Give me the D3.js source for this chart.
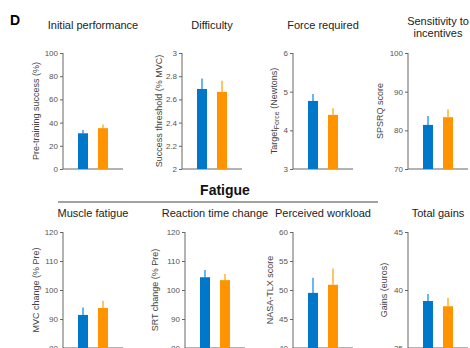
<!DOCTYPE html>
<html>
<head>
<meta charset="utf-8">
<script src="https://cdn.jsdelivr.net/npm/d3@7"></script>
<style>
  body { margin: 0; background: #fff; }
  svg { font-family: "Liberation Sans", Arial, sans-serif; }
</style>
</head>
<body>
<div class="content"></div>
<script>
// one entry per panel, top row then bottom row
var titles = [["Initial performance"], ["Difficulty"], ["Force required"], ["Sensitivity to", "incentives"],
              ["Muscle fatigue"], ["Reaction time change"], ["Perceived workload"], ["Total gains"]];
var yLabels = ["Pre-training success (%)", "Success threshold (% MVC)", "Target|Force| (Newtons)", "SPSRQ score",
               "MVC change (% Pre)", "SRT change (% Pre)", "NASA-TLX score", "Gains (euros)"];
var yTicks = [[0, 20, 40, 60, 80, 100], [2, 2.2, 2.4, 2.6, 2.8, 3], [3, 4, 5, 6], [70, 80, 90, 100],
              [80, 90, 100, 110, 120], [80, 90, 100, 110, 120], [40, 45, 50, 55, 60], [35, 40, 45]];
var groups = ["blue", "orange"];
var blueMean = [30.8, 2.69, 4.76, 81.4, 91.4, 104.4, 49.5, 39.05];
var blueTop  = [33.6, 2.78, 4.94, 83.7, 94.0, 106.9, 52.1, 39.65];
var orangeMean = [35.2, 2.665, 4.40, 83.4, 93.8, 103.4, 50.9, 38.6];
var orangeTop  = [38.4, 2.76, 4.57, 85.4, 96.3, 105.5, 53.7, 39.3];

var axisX = [63, 182, 293, 408, 63, 185, 293, 408];
var rowTop = [53, 232], rowH = 116;
var titleY = [29, 217];
var labelX = [39, 162, 277, 383, 39, 158, 273, 387];
var colors = {blue: "#0077c8", orange: "#ff9300"};
var errColors = {blue: "#6ab6ee", orange: "#ffc463"};

var svg = d3.select(".content").append("svg")
  .attr("width", 470).attr("height", 348);

svg.append("text").attr("x", 10).attr("y", 25)
  .style("font-weight", "bold").style("font-size", "14px").text("D");

svg.append("text").attr("x", 225).attr("y", 195).attr("text-anchor", "middle")
  .style("font-weight", "bold").style("font-size", "14px").attr("fill", "#111").text("Fatigue");
svg.append("line").attr("x1", 58).attr("x2", 378).attr("y1", 202).attr("y2", 202)
  .attr("stroke", "#444").attr("stroke-width", 1);

titles.forEach(function(t, i) {
  var row = i < 4 ? 0 : 1;
  var ax = axisX[i];
  var top = rowTop[row];
  var ticks = yTicks[i];
  var y = d3.scaleLinear().domain([ticks[0], ticks[ticks.length - 1]]).range([top + rowH, top]);
  var x = d3.scaleBand().domain(groups).range([ax, ax + 60]).paddingInner(0.5).paddingOuter(0.75);
  var g = svg.append("g");

  // title
  var cx = ax + 30;
  if (t.length == 1) {
    g.append("text").attr("x", cx).attr("y", titleY[row]).attr("text-anchor", "middle")
      .style("font-size", "11px").attr("fill", "#222").text(t[0]);
  } else {
    g.append("text").attr("x", cx).attr("y", 25).attr("text-anchor", "middle")
      .style("font-size", "11px").attr("fill", "#222").text(t[0]);
    g.append("text").attr("x", cx).attr("y", 37).attr("text-anchor", "middle")
      .style("font-size", "11px").attr("fill", "#222").text(t[1]);
  }

  // y axis
  var yAxis = d3.axisLeft(y).tickValues(ticks).tickSize(3).tickPadding(2)
    .tickFormat(function(d) { return d3.format("~g")(d); });
  var ga = g.append("g").attr("transform", "translate(" + ax + ",0)").call(yAxis);
  ga.select(".domain").attr("stroke", "#666").attr("d", "M0," + y.range()[0] + "V" + y.range()[1]);
  ga.selectAll(".tick line").attr("stroke", "#666");
  ga.selectAll(".tick text").attr("fill", "#555").style("font-size", "8px");

  // baseline
  g.append("line").attr("x1", ax).attr("x2", ax + 60)
    .attr("y1", y.range()[0]).attr("y2", y.range()[0]).attr("stroke", "#666");

  // y label
  var parts = yLabels[i].split("|");
  var lab = g.append("text")
    .attr("transform", "translate(" + labelX[i] + "," + (top + rowH / 2) + ") rotate(-90)")
    .attr("text-anchor", "middle").style("font-size", "9px").attr("fill", "#444");
  lab.append("tspan").text(parts[0]);
  if (parts.length > 1) {
    lab.append("tspan").attr("dy", 2).style("font-size", "7px").text(parts[1]);
    lab.append("tspan").attr("dy", -2).text(parts[2]);
  }

  var rows = [
    {k: "blue", m: blueMean[i], e: blueTop[i]},
    {k: "orange", m: orangeMean[i], e: orangeTop[i]}
  ];

  g.selectAll(".err").data(rows).enter().append("line")
    .attr("x1", function(d) { return x(d.k) + x.bandwidth() / 2; })
    .attr("x2", function(d) { return x(d.k) + x.bandwidth() / 2; })
    .attr("y1", function(d) { return y(d.m); })
    .attr("y2", function(d) { return y(d.e); })
    .attr("stroke", function(d) { return errColors[d.k]; })
    .attr("stroke-width", 2);

  g.selectAll(".bar").data(rows).enter().append("rect")
    .attr("x", function(d) { return x(d.k); })
    .attr("width", x.bandwidth())
    .attr("y", function(d) { return y(d.m); })
    .attr("height", function(d) { return y.range()[0] - y(d.m); })
    .attr("fill", function(d) { return colors[d.k]; });
});
</script>
</body>
</html>
